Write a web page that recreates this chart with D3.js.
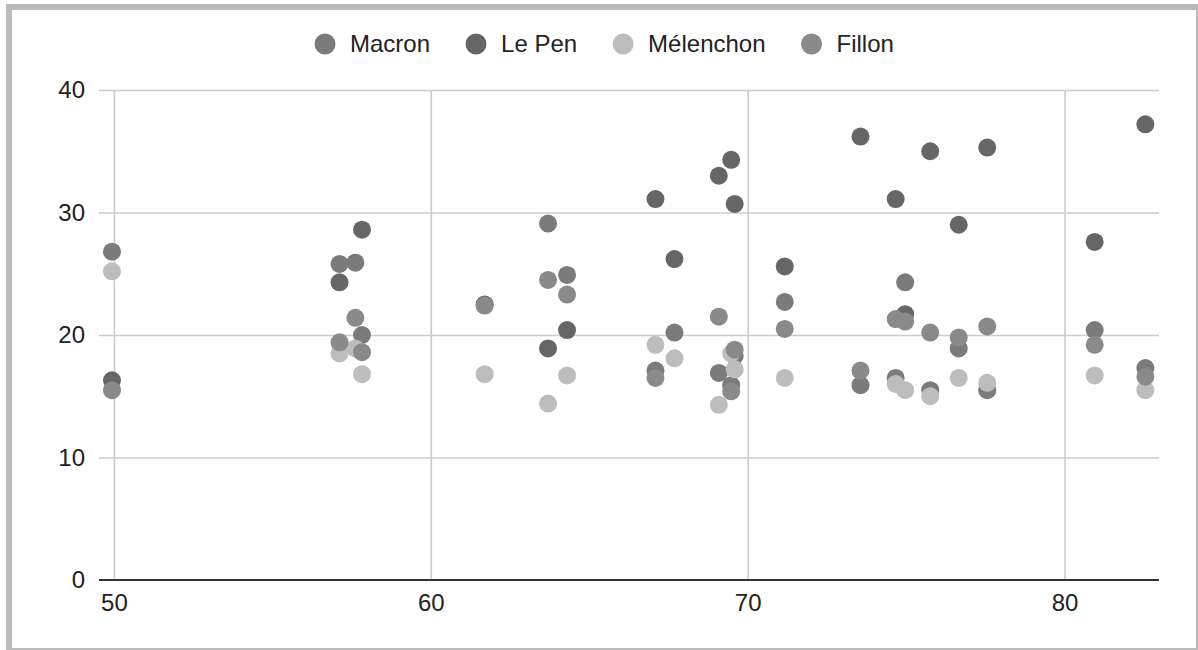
<!DOCTYPE html>
<html>
<head>
<meta charset="utf-8">
<script src="https://cdn.jsdelivr.net/npm/d3@7"></script>
<style>
  body { margin: 0; background: #fff; }
  text { font-family: "Liberation Sans", Arial, sans-serif; }
</style>
</head>
<body>
<div id="Chart"></div>
<script>
// Scatter chart: four candidates' vote share (y) against a shared x value

//////////////////////////////////////////////////////////////////////////
// data (one entry per x value, null = not visible)

var xValues   = [49.94, 57.12, 57.62, 57.83, 61.70, 63.70, 64.30, 67.09, 67.69, 69.09, 69.48,
                 69.59, 71.17, 73.56, 74.67, 74.97, 75.76, 76.66, 77.56, 80.95, 82.55];
var macron    = [26.8, 25.8, 25.9, 20.0, null, 29.1, 24.9, 17.1, 20.2, 16.9, 15.9,
                 18.3, 22.7, 15.9, 16.5, 24.3, 15.5, 18.9, 15.5, 20.4, 17.3];
var lePen     = [16.3, 24.3, null, 28.6, 22.5, 18.9, 20.4, 31.1, 26.2, 33.0, 34.3,
                 30.7, 25.6, 36.2, 31.1, 21.7, 35.0, 29.0, 35.3, 27.6, 37.2];
var melenchon = [25.2, 18.5, 18.9, 16.8, 16.8, 14.4, 16.7, 19.2, 18.1, 14.3, 18.5,
                 17.2, 16.5, null, 16.0, 15.5, 15.0, 16.5, 16.1, 16.7, 15.5];
var fillon    = [15.5, 19.4, 21.4, 18.6, 22.4, 24.5, 23.3, 16.5, null, 21.5, 15.4,
                 18.8, 20.5, 17.1, 21.3, 21.1, 20.2, 19.8, 20.7, 19.2, 16.6];

var seriesNames = ["Macron", "Le Pen", "Mélenchon", "Fillon"];
var xTicks = [50, 60, 70, 80];
var yTicks = [0, 10, 20, 30, 40];

//////////////////////////////////////////////////////////////////////////
// "constant" globals for layout

var Width = 1198;
var Height = 650;
var PlotLeft = 99;
var PlotRight = 1159;
var PlotTop = 90;
var PlotBottom = 580;
var DotRadius = 9;
var FontSize = 24;
var colors = ["#7b7b7b", "#666666", "#bdbdbd", "#8a8a8a"];

function initialize () {

    var svg = d3.select("#Chart")
        .append("svg")
        .attr("width", Width)
        .attr("height", Height);

    makeFrame(svg);

    var xScale = d3.scaleLinear()
        .domain([49.53, 82.98])
        .range([PlotLeft, PlotRight]);

    var yScale = d3.scaleLinear()
        .domain([0, 40])
        .range([PlotBottom, PlotTop]);

    makeGrid(svg, xScale, yScale);
    makeAxes(svg, xScale, yScale);
    makeDots(svg, xScale, yScale);
    makeLegend(svg);

} // end initialize

// grey border round the picture
function makeFrame (svg) {
    svg.append("rect")
        .attr("x", 6).attr("y", 4)
        .attr("width", Width - 6).attr("height", Height - 4)
        .attr("fill", "#bbbbbb");
    svg.append("rect")
        .attr("x", 12).attr("y", 10)
        .attr("width", Width - 14).attr("height", Height - 12)
        .attr("fill", "#ffffff");
} // end makeFrame

// light grid lines in both directions
function makeGrid (svg, xScale, yScale) {

    svg.append("g")
        .attr("class", "grid x")
        .attr("transform", "translate(0," + PlotBottom + ")")
        .call(d3.axisBottom(xScale)
              .tickValues(xTicks)
              .tickSize(-(PlotBottom - PlotTop))
              .tickFormat(""));

    svg.append("g")
        .attr("class", "grid y")
        .attr("transform", "translate(" + PlotLeft + ",0)")
        .call(d3.axisLeft(yScale)
              .tickValues(yTicks.filter(function(d) { return d > 0; }))
              .tickSize(-(PlotRight - PlotLeft))
              .tickFormat(""));

    svg.selectAll(".grid .domain").remove();
    svg.selectAll(".grid line")
        .attr("stroke", "#cccccc")
        .attr("stroke-width", 1.6);

} // end makeGrid

// tick labels and the dark base line at zero
function makeAxes (svg, xScale, yScale) {

    var xAxis = svg.append("g")
        .attr("transform", "translate(0," + PlotBottom + ")")
        .call(d3.axisBottom(xScale)
              .tickValues(xTicks)
              .tickSize(0)
              .tickPadding(14));

    var yAxis = svg.append("g")
        .attr("transform", "translate(" + PlotLeft + ",0)")
        .call(d3.axisLeft(yScale)
              .tickValues(yTicks)
              .tickSize(0)
              .tickPadding(14));

    [xAxis, yAxis].forEach(function(g) {
        g.select(".domain").remove();
        g.selectAll("text")
            .attr("font-size", FontSize + "px")
            .attr("font-family", "'Liberation Sans', Arial, sans-serif")
            .attr("fill", "#222");
    });

    svg.append("line")
        .attr("x1", PlotLeft).attr("x2", PlotRight)
        .attr("y1", yScale(0)).attr("y2", yScale(0))
        .attr("stroke", "#333333")
        .attr("stroke-width", 2);

} // end makeAxes

// one group of circles per candidate, drawn in legend order
function makeDots (svg, xScale, yScale) {

    var allSeries = [macron, lePen, melenchon, fillon];

    allSeries.forEach(function(values, s) {
        var pts = values.map(function(v, i) { return { x: xValues[i], y: v }; })
            .filter(function(d) { return d.y !== null; });

        svg.append("g")
            .attr("class", "series")
            .selectAll("circle")
            .data(pts)
            .enter()
            .append("circle")
            .attr("cx", function(d) { return xScale(d.x); })
            .attr("cy", function(d) { return yScale(d.y); })
            .attr("r", DotRadius)
            .attr("fill", colors[s]);
    });

} // end makeDots

// legend across the top
function makeLegend (svg) {

    var legend = svg.append("g").attr("class", "legend");
    var x = 325;
    var y = 44;

    seriesNames.forEach(function(name, i) {
        legend.append("circle")
            .attr("cx", x).attr("cy", y)
            .attr("r", 10.5)
            .attr("fill", colors[i]);
        var t = legend.append("text")
            .attr("x", x + 25)
            .attr("y", y)
            .attr("dy", "0.35em")
            .attr("font-size", FontSize + "px")
            .attr("fill", "#222")
            .text(name);
        x = x + 25 + t.node().getComputedTextLength() + 46;
    });

} // end makeLegend

initialize();
</script>
</body>
</html>
